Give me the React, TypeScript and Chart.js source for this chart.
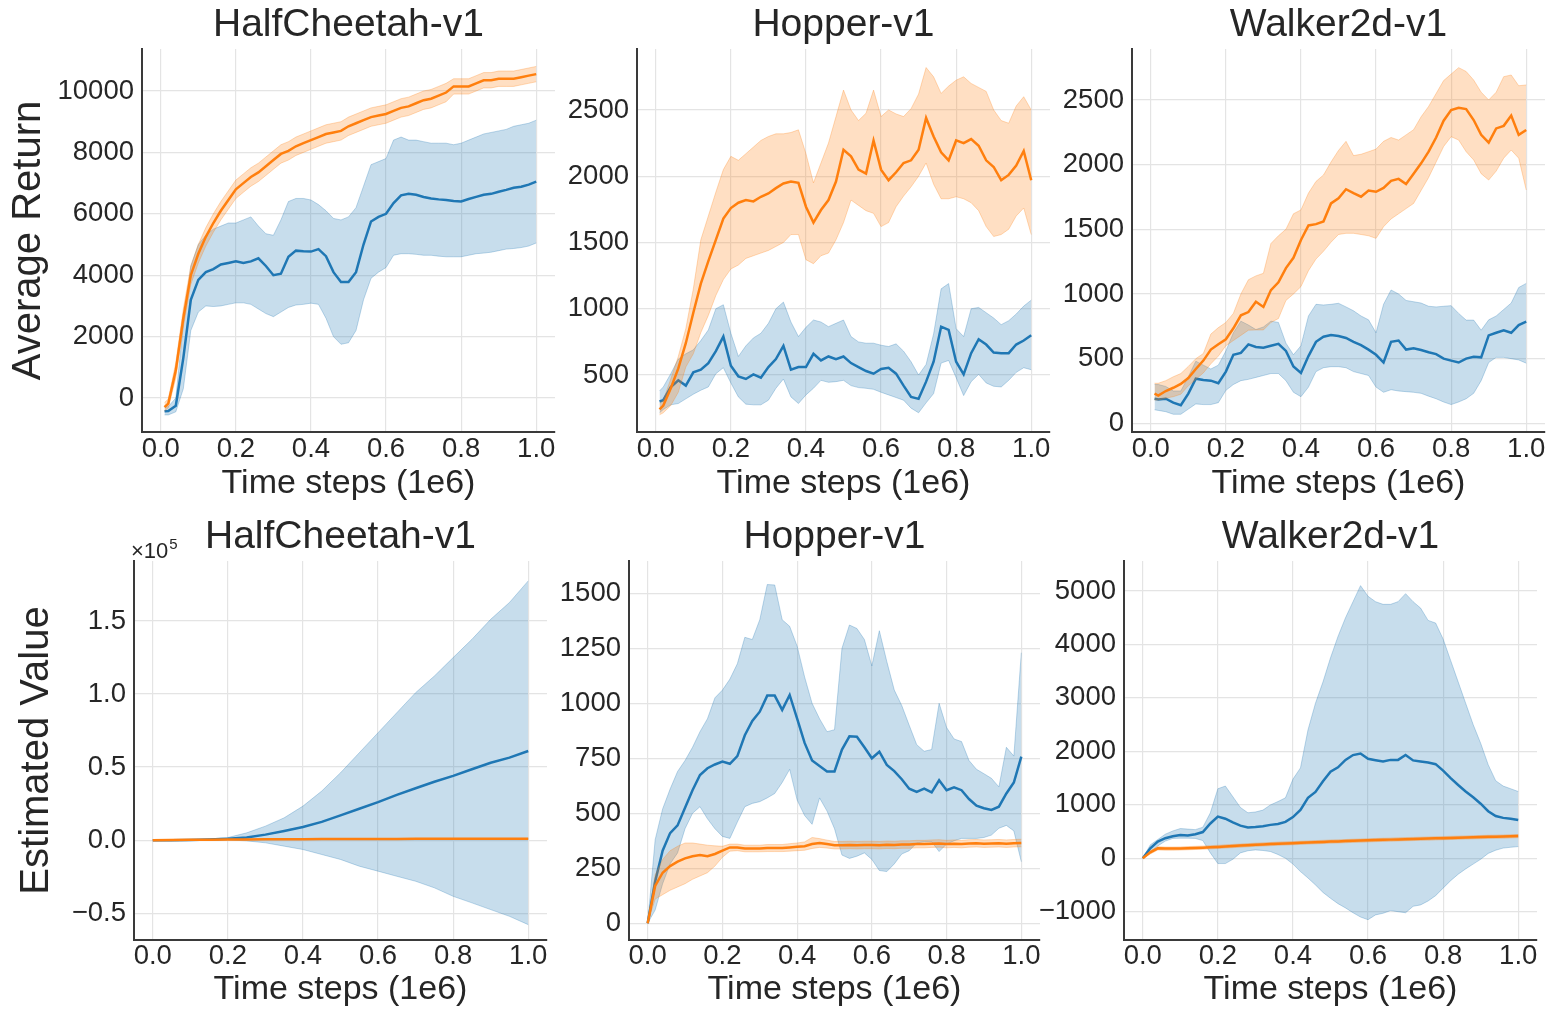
import React, { useEffect, useRef } from "react";
import { Chart, registerables } from "chart.js";

Chart.register(...registerables);

// ---------------- data ----------------
const X_TOP = [0.01, 0.02, 0.04, 0.06, 0.08, 0.1, 0.12, 0.14, 0.16, 0.18, 0.2, 0.22, 0.24, 0.26, 0.28, 0.3, 0.32, 0.34, 0.36, 0.38, 0.4, 0.42, 0.44, 0.46, 0.48, 0.5, 0.52, 0.54, 0.56, 0.58, 0.6, 0.62, 0.64, 0.66, 0.68, 0.7, 0.72, 0.74, 0.76, 0.78, 0.8, 0.82, 0.84, 0.86, 0.88, 0.9, 0.92, 0.94, 0.96, 0.98, 1.0];
const X_BOT = [0, 0.02, 0.04, 0.06, 0.08, 0.1, 0.12, 0.14, 0.16, 0.18, 0.2, 0.22, 0.24, 0.26, 0.28, 0.3, 0.32, 0.34, 0.36, 0.38, 0.4, 0.42, 0.44, 0.46, 0.48, 0.5, 0.52, 0.54, 0.56, 0.58, 0.6, 0.62, 0.64, 0.66, 0.68, 0.7, 0.72, 0.74, 0.76, 0.78, 0.8, 0.82, 0.84, 0.86, 0.88, 0.9, 0.92, 0.94, 0.96, 0.98, 1.0];
const X_HC_VAL = [0, 0.05, 0.1, 0.15, 0.2, 0.25, 0.3, 0.35, 0.4, 0.45, 0.5, 0.55, 0.6, 0.65, 0.7, 0.75, 0.8, 0.85, 0.9, 0.95, 1.0];

const TITLES = ["HalfCheetah-v1", "Hopper-v1", "Walker2d-v1"];
const X_LABEL = "Time steps (1e6)";
const Y_LABEL_TOP = "Average Return";
const Y_LABEL_BOT = "Estimated Value";

const TICKS_X = [0, 0.2, 0.4, 0.6, 0.8, 1.0];
const TICKS_HC_RET = [0, 2000, 4000, 6000, 8000, 10000];
const TICKS_HOP_RET = [500, 1000, 1500, 2000, 2500];
const TICKS_WAL_RET = [0, 500, 1000, 1500, 2000, 2500];
const TICKS_HC_VAL = [-50000, 0, 50000, 100000, 150000];
const TICKS_HOP_VAL = [0, 250, 500, 750, 1000, 1250, 1500];
const TICKS_WAL_VAL = [-1000, 0, 1000, 2000, 3000, 4000, 5000];

// HalfCheetah - Average Return
const HC_RET_BLUE_MEAN = [-430, -420, -250, 1300, 3200, 3850, 4100, 4200, 4350, 4400, 4450, 4400, 4450, 4550, 4300, 4000, 4050, 4600, 4800, 4780, 4770, 4850, 4620, 4100, 3780, 3780, 4100, 5000, 5750, 5900, 6000, 6350, 6600, 6650, 6620, 6550, 6500, 6470, 6450, 6420, 6400, 6480, 6550, 6620, 6650, 6720, 6780, 6850, 6880, 6950, 7050];
const HC_RET_BLUE_HI = [-300, -280, 0, 2400, 4300, 5000, 5300, 5500, 5600, 5700, 5700, 5800, 5900, 5600, 5350, 5300, 5800, 6400, 6500, 6500, 6450, 6300, 6100, 5850, 5800, 5900, 6200, 6900, 7600, 7700, 7800, 8400, 8500, 8400, 8400, 8350, 8300, 8300, 8300, 8250, 8300, 8400, 8500, 8600, 8650, 8700, 8750, 8850, 8900, 8950, 9050];
const HC_RET_BLUE_LO = [-550, -550, -450, 300, 2200, 2800, 3000, 2980, 3000, 3050, 3100, 3100, 3050, 2900, 2750, 2650, 2800, 2950, 3030, 3050, 3090, 3050, 2600, 2000, 1750, 1800, 2200, 3200, 3900, 4100, 4250, 4650, 4700, 4700, 4680, 4650, 4650, 4620, 4600, 4600, 4600, 4650, 4700, 4720, 4750, 4800, 4850, 4870, 4900, 4950, 5050];
const HC_RET_ORANGE_MEAN = [-300, -180, 900, 2600, 4000, 4700, 5250, 5700, 6100, 6450, 6800, 7000, 7200, 7350, 7550, 7750, 7950, 8050, 8200, 8300, 8400, 8500, 8600, 8650, 8700, 8850, 8950, 9050, 9150, 9200, 9250, 9350, 9450, 9500, 9600, 9700, 9750, 9850, 9950, 10150, 10150, 10150, 10250, 10350, 10350, 10400, 10400, 10400, 10450, 10500, 10550];
const HC_RET_ORANGE_HI = [-150, -30, 1150, 2900, 4300, 5000, 5550, 6000, 6400, 6750, 7100, 7300, 7500, 7650, 7850, 8050, 8250, 8350, 8500, 8600, 8700, 8800, 8900, 8950, 9000, 9150, 9250, 9350, 9450, 9500, 9550, 9650, 9750, 9800, 9900, 10000, 10050, 10150, 10250, 10400, 10400, 10400, 10500, 10600, 10600, 10650, 10650, 10650, 10700, 10750, 10800];
const HC_RET_ORANGE_LO = [-420, -320, 650, 2300, 3700, 4400, 4950, 5400, 5800, 6150, 6500, 6700, 6900, 7050, 7250, 7450, 7650, 7750, 7900, 8000, 8100, 8200, 8300, 8350, 8400, 8550, 8650, 8750, 8850, 8900, 8950, 9050, 9150, 9200, 9300, 9400, 9450, 9550, 9650, 9900, 9900, 9900, 10000, 10100, 10100, 10150, 10150, 10150, 10200, 10250, 10300];

// Hopper - Average Return
const HOP_RET_BLUE_MEAN = [300, 310, 410, 460, 420, 520, 540, 590, 680, 790, 570, 490, 470, 505, 480, 560, 620, 720, 540, 560, 560, 660, 610, 640, 620, 640, 590, 560, 530, 510, 545, 555, 510, 420, 335, 320, 450, 600, 865, 840, 600, 505, 665, 770, 730, 670, 665, 665, 730, 760, 800];
const HOP_RET_BLUE_HI = [380, 410, 510, 620, 660, 690, 760, 840, 1000, 1030, 815, 640, 720, 780, 815, 890, 1000, 1050, 900, 790, 860, 915, 900, 865, 890, 915, 790, 750, 740, 740, 725, 715, 735, 680, 600, 500, 580, 810, 1150, 1190, 850, 790, 1000, 1010, 970, 930, 880, 910, 960, 1020, 1065];
const HOP_RET_BLUE_LO = [215, 240, 275, 285, 320, 355, 385, 410, 510, 555, 440, 335, 280, 275, 275, 310, 400, 470, 335, 285, 350, 400, 460, 445, 450, 460, 420, 405, 400, 392, 370, 350, 330, 310, 250, 215, 290, 360, 590, 610, 480, 345, 450, 505, 440, 415, 410, 460, 520, 555, 540];
const HOP_RET_ORANGE_MEAN = [240, 270, 400, 550, 740, 970, 1190, 1360, 1520, 1680, 1760, 1800, 1820, 1810, 1845, 1870, 1910, 1945, 1960, 1950, 1770, 1650, 1745, 1820, 1960, 2200, 2150, 2050, 2020, 2270, 2050, 1970, 2030, 2100, 2120, 2200, 2440, 2300, 2180, 2120, 2270, 2250, 2280, 2230, 2120, 2070, 1970, 2010, 2080, 2190, 1970];
const HOP_RET_ORANGE_HI = [280, 310, 470, 640, 850, 1150, 1520, 1700, 1880, 2050, 2150, 2120, 2170, 2220, 2270, 2300, 2320, 2320, 2330, 2350, 2170, 1950, 2100, 2250, 2450, 2650, 2500, 2420, 2475, 2650, 2450, 2500, 2470, 2450, 2510, 2620, 2820, 2750, 2625, 2680, 2725, 2750, 2700, 2670, 2640, 2500, 2420, 2400, 2530, 2600, 2500];
const HOP_RET_ORANGE_LO = [200, 215, 270, 370, 560, 660, 820, 950, 1100, 1220, 1300, 1330, 1380, 1400, 1420, 1440, 1470, 1500, 1560, 1560, 1370, 1340, 1400, 1420, 1520, 1650, 1820, 1780, 1740, 1720, 1620, 1650, 1770, 1850, 1920, 2000, 2100, 1940, 1830, 1830, 1845, 1830, 1800, 1740, 1620, 1545, 1560, 1600, 1700, 1760, 1560];

// Walker2d - Average Return
const WAL_RET_BLUE_MEAN = [190, 185, 190, 160, 140, 230, 345, 335, 330, 310, 400, 530, 545, 610, 590, 585, 600, 615, 560, 440, 390, 520, 630, 670, 683, 675, 660, 630, 605, 570, 530, 470, 630, 640, 570, 580, 567, 550, 535, 500, 485, 470, 500, 515, 510, 680, 700, 720, 700, 760, 786];
const WAL_RET_BLUE_HI = [300, 300, 285, 250, 250, 360, 480, 450, 420, 450, 560, 700, 790, 760, 725, 745, 790, 780, 620, 530, 600, 830, 920, 915, 920, 928, 900, 870, 830, 800, 700, 920, 1031, 1000, 950, 940, 930, 905, 900, 905, 910, 850, 798, 798, 720, 800, 830, 880, 930, 1050, 1082];
const WAL_RET_BLUE_LO = [105, 100, 90, 70, 70, 110, 150, 145, 145, 160, 255, 300, 330, 340, 355, 370, 385, 385, 330, 240, 206, 280, 400, 430, 438, 438, 430, 400, 385, 370, 280, 240, 260, 250, 245, 240, 232, 210, 190, 165, 145, 165, 190, 232, 330, 470, 510, 510, 500, 490, 465];
const WAL_RET_ORANGE_MEAN = [230, 215, 250, 275, 305, 350, 420, 485, 570, 612, 650, 735, 835, 860, 940, 900, 1030, 1090, 1200, 1280, 1417, 1530, 1540, 1560, 1700, 1740, 1810, 1780, 1752, 1800, 1790, 1820, 1875, 1890, 1850, 1930, 2010, 2100, 2210, 2340, 2422, 2440, 2430, 2345, 2230, 2170, 2280, 2300, 2380, 2230, 2268];
const WAL_RET_ORANGE_HI = [310, 310, 330, 360, 385, 440, 500, 540, 690, 740, 780, 850, 1000, 1110, 1140, 1160, 1390, 1450, 1500, 1620, 1650, 1780, 1870, 1920, 2020, 2110, 2180, 2070, 2080, 2100, 2120, 2180, 2210, 2190, 2230, 2270, 2370, 2450, 2550, 2650, 2700, 2750, 2720, 2654, 2560, 2500, 2560, 2680, 2693, 2610, 2616];
const WAL_RET_ORANGE_LO = [180, 180, 195, 206, 225, 290, 340, 390, 460, 520, 600, 640, 680, 720, 722, 722, 780, 810, 950, 1000, 1057, 1180, 1270, 1330, 1400, 1460, 1469, 1469, 1460, 1450, 1430, 1520, 1580, 1620, 1660, 1700, 1800, 1900, 2020, 2140, 2216, 2190, 2100, 2036, 1930, 1881, 1950, 2050, 2113, 2050, 1804];

// HalfCheetah - Estimated Value
const HC_VAL_BLUE_MEAN = [0, 0, 200, 500, 1000, 1800, 3800, 6300, 9000, 12500, 17000, 21500, 26000, 31000, 35500, 40000, 44000, 48500, 53000, 56500, 61000];
const HC_VAL_BLUE_HI = [0, 100, 300, 800, 1800, 5000, 9600, 15300, 23300, 33600, 46100, 59800, 73500, 87200, 100900, 112300, 124900, 137400, 151100, 162600, 177400];
const HC_VAL_BLUE_LO = [0, -100, 0, 200, 200, -500, -1800, -4100, -6400, -9800, -13200, -17800, -21200, -24700, -28100, -32600, -38400, -42900, -47500, -52100, -57800];
const HC_VAL_ORANGE_MEAN = [0, 100, 250, 350, 450, 500, 600, 650, 700, 750, 800, 820, 850, 880, 900, 920, 950, 970, 990, 1000, 1020];
const HC_VAL_ORANGE_HI = [0, 250, 400, 500, 600, 650, 750, 800, 850, 900, 950, 970, 1000, 1030, 1050, 1070, 1100, 1120, 1140, 1150, 1170];
const HC_VAL_ORANGE_LO = [0, -50, 100, 200, 300, 350, 450, 500, 550, 600, 650, 670, 700, 730, 750, 770, 800, 820, 840, 850, 870];

// Hopper - Estimated Value
const HOP_VAL_BLUE_MEAN = [0, 190, 330, 410, 445, 525, 605, 674, 705, 722, 735, 725, 760, 855, 920, 962, 1035, 1035, 970, 1038, 930, 820, 740, 715, 690, 690, 790, 850, 848, 800, 750, 780, 720, 692, 655, 612, 597, 612, 595, 650, 605, 618, 605, 565, 535, 523, 515, 530, 590, 640, 758];
const HOP_VAL_BLUE_HI = [0, 380, 520, 610, 690, 740, 800, 871, 930, 1025, 1060, 1110, 1180, 1300, 1290, 1380, 1540, 1538, 1380, 1350, 1260, 1120, 1000, 930, 871, 880, 1250, 1356, 1340, 1290, 1170, 1330, 1190, 1060, 990, 900, 812, 782, 790, 1000, 890, 838, 826, 740, 700, 680, 659, 620, 800, 760, 1230];
const HOP_VAL_BLUE_LO = [0, 60, 180, 270, 320, 430, 500, 530, 475, 430, 395, 386, 460, 530, 545, 553, 570, 590, 640, 700, 560, 490, 450, 570, 510, 430, 310, 295, 305, 320, 290, 240, 235, 270, 315, 330, 365, 371, 371, 326, 360, 375, 386, 386, 386, 390, 401, 432, 445, 420, 280];
const HOP_VAL_ORANGE_MEAN = [0, 170, 230, 260, 280, 295, 305, 310, 305, 315, 330, 345, 345, 340, 340, 340, 342, 342, 342, 345, 348, 350, 360, 365, 360, 355, 355, 356, 355, 356, 356, 355, 357, 356, 358, 358, 360, 360, 362, 363, 360, 362, 360, 363, 364, 362, 363, 364, 362, 364, 365];
const HOP_VAL_ORANGE_HI = [0, 220, 290, 330, 350, 365, 365, 360, 355, 352, 350, 360, 360, 355, 355, 355, 358, 358, 358, 362, 365, 370, 390, 385, 378, 372, 372, 373, 372, 373, 373, 372, 374, 373, 375, 375, 377, 377, 379, 380, 377, 379, 377, 380, 381, 379, 380, 381, 379, 381, 382];
const HOP_VAL_ORANGE_LO = [0, 110, 130, 150, 165, 180, 200, 215, 230, 260, 300, 328, 330, 325, 325, 325, 326, 326, 326, 328, 330, 332, 340, 345, 342, 338, 338, 339, 338, 339, 339, 338, 340, 339, 341, 341, 343, 343, 345, 346, 343, 345, 343, 346, 347, 345, 346, 347, 345, 347, 348];

// Walker2d - Estimated Value
const WAL_VAL_BLUE_MEAN = [0, 187, 312, 375, 410, 435, 425, 450, 490, 650, 780, 740, 670, 610, 575, 585, 600, 624, 640, 680, 770, 905, 1130, 1240, 1440, 1620, 1700, 1840, 1930, 1960, 1860, 1835, 1810, 1840, 1840, 1930, 1830, 1809, 1790, 1760, 1640, 1500, 1370, 1250, 1140, 1020, 880, 790, 755, 740, 717];
const WAL_VAL_BLUE_HI = [0, 250, 350, 450, 510, 555, 545, 535, 580, 850, 1300, 1350, 1150, 950, 850, 865, 900, 998, 1060, 1130, 1480, 1690, 2400, 2900, 3300, 3750, 4150, 4500, 4800, 5100, 4900, 4800, 4750, 4750, 4800, 4950, 4800, 4680, 4450, 4400, 4100, 3700, 3300, 2900, 2500, 2150, 1750, 1450, 1350, 1300, 1248];
const WAL_VAL_BLUE_LO = [0, 110, 230, 320, 370, 375, 375, 370, 330, 100, -100, -100, -20, 100, 140, 156, 145, 125, 70, 0, -110, -250, -370, -500, -640, -750, -850, -930, -1020, -1100, -1150, -1060, -1030, -980, -1000, -1020, -900, -873, -800, -700, -560, -420, -300, -200, -110, -20, 90, 150, 190, 205, 218];
const WAL_VAL_ORANGE_MEAN = [0, 110, 185, 180, 180, 182, 188, 193, 198, 205, 212, 220, 228, 236, 244, 252, 258, 264, 272, 276, 282, 288, 294, 300, 305, 312, 315, 320, 326, 330, 335, 340, 344, 348, 352, 357, 360, 364, 368, 372, 376, 380, 384, 388, 392, 396, 400, 403, 406, 410, 414];
const WAL_VAL_ORANGE_HI = [0, 140, 215, 210, 210, 212, 218, 223, 228, 235, 242, 250, 258, 266, 274, 282, 288, 294, 302, 306, 312, 318, 324, 330, 335, 342, 345, 350, 356, 360, 365, 370, 374, 378, 382, 387, 390, 394, 398, 402, 406, 410, 414, 418, 422, 426, 430, 433, 436, 440, 444];
const WAL_VAL_ORANGE_LO = [0, 80, 155, 150, 150, 152, 158, 163, 168, 175, 182, 190, 198, 206, 214, 222, 228, 234, 242, 246, 252, 258, 264, 270, 275, 282, 285, 290, 296, 300, 305, 310, 314, 318, 322, 327, 330, 334, 338, 342, 346, 350, 354, 358, 362, 366, 370, 373, 376, 380, 384];

// ---------------- styles ----------------
const FONT = "'Liberation Sans', Arial, sans-serif";
const TEXT = "#262626";
const BLUE = "#1f77b4";
const ORANGE = "#ff7f0e";
const BLUE_FILL = "rgba(31,119,180,0.25)";
const BLUE_EDGE = "rgba(31,119,180,0.28)";
const ORANGE_FILL = "rgba(255,127,14,0.25)";
const ORANGE_EDGE = "rgba(255,127,14,0.28)";
const GRID = "#e4e4e4";
const SPINE = "#3a3a3a";
const TICK_SIZE = 27.5;
const XLABEL_SIZE = 34;
const TITLE_SIZE = 39;
const YLABEL_SIZE = 40;

Chart.defaults.font.family = FONT;

type Series = { mean: number[]; lo: number[]; hi: number[] };
type PanelSpec = {
  title: string;
  xs: number[];
  blue: Series;
  orange: Series;
  yMin: number;
  yMax: number;
  yTicks: number[];
  fmt: (v: number) => string;
  yTitle?: string;
  yTitlePad?: number;
  sci?: boolean;
  left: number;
  top: number;
  width: number;
  height: number;
  yW: number;
  xH: number;
  tPadTop: number;
  tPadBottom: number;
  tickPad: number;
};

const fmtInt = (v: number) => (v < 0 ? "\u2212" + Math.abs(v) : String(v));
const fmtSci5 = (v: number) => {
  const s = Math.abs(v / 1e5).toFixed(1);
  return v < 0 ? "\u2212" + s : s;
};

const TOP_ROW = { top: 0, height: 504, xH: 72, tPadTop: 2.2, tPadBottom: 0, tickPad: 0.5 };
const BOT_ROW = { top: 500, height: 510, xH: 70, tPadTop: 14.2, tPadBottom: 0, tickPad: 0 };

const PANELS: PanelSpec[] = [
  {
    title: TITLES[0], xs: X_TOP,
    blue: { mean: HC_RET_BLUE_MEAN, lo: HC_RET_BLUE_LO, hi: HC_RET_BLUE_HI },
    orange: { mean: HC_RET_ORANGE_MEAN, lo: HC_RET_ORANGE_LO, hi: HC_RET_ORANGE_HI },
    yMin: -1107, yMax: 11368, yTicks: TICKS_HC_RET, fmt: fmtInt,
    yTitle: Y_LABEL_TOP, yTitlePad: 5,
    left: 0, width: 559, yW: 142, ...TOP_ROW,
  },
  {
    title: TITLES[1], xs: X_TOP,
    blue: { mean: HOP_RET_BLUE_MEAN, lo: HOP_RET_BLUE_LO, hi: HOP_RET_BLUE_HI },
    orange: { mean: HOP_RET_ORANGE_MEAN, lo: HOP_RET_ORANGE_LO, hi: HOP_RET_ORANGE_HI },
    yMin: 70, yMax: 2960, yTicks: TICKS_HOP_RET, fmt: fmtInt,
    left: 537, width: 517, yW: 100, ...TOP_ROW,
  },
  {
    title: TITLES[2], xs: X_TOP,
    blue: { mean: WAL_RET_BLUE_MEAN, lo: WAL_RET_BLUE_LO, hi: WAL_RET_BLUE_HI },
    orange: { mean: WAL_RET_ORANGE_MEAN, lo: WAL_RET_ORANGE_LO, hi: WAL_RET_ORANGE_HI },
    yMin: -67, yMax: 2894, yTicks: TICKS_WAL_RET, fmt: fmtInt,
    left: 1032, width: 517, yW: 100, ...TOP_ROW,
  },
  {
    title: TITLES[0], xs: X_HC_VAL,
    blue: { mean: HC_VAL_BLUE_MEAN, lo: HC_VAL_BLUE_LO, hi: HC_VAL_BLUE_HI },
    orange: { mean: HC_VAL_ORANGE_MEAN, lo: HC_VAL_ORANGE_LO, hi: HC_VAL_ORANGE_HI },
    yMin: -68300, yMax: 191000, yTicks: TICKS_HC_VAL, fmt: fmtSci5,
    yTitle: Y_LABEL_BOT, yTitlePad: 13, sci: true,
    left: 0, width: 551, yW: 134, ...BOT_ROW,
  },
  {
    title: TITLES[1], xs: X_BOT,
    blue: { mean: HOP_VAL_BLUE_MEAN, lo: HOP_VAL_BLUE_LO, hi: HOP_VAL_BLUE_HI },
    orange: { mean: HOP_VAL_ORANGE_MEAN, lo: HOP_VAL_ORANGE_LO, hi: HOP_VAL_ORANGE_HI },
    yMin: -76, yMax: 1647, yTicks: TICKS_HOP_VAL, fmt: fmtInt,
    left: 529, width: 515, yW: 100, ...BOT_ROW,
  },
  {
    title: TITLES[2], xs: X_BOT,
    blue: { mean: WAL_VAL_BLUE_MEAN, lo: WAL_VAL_BLUE_LO, hi: WAL_VAL_BLUE_HI },
    orange: { mean: WAL_VAL_ORANGE_MEAN, lo: WAL_VAL_ORANGE_LO, hi: WAL_VAL_ORANGE_HI },
    yMin: -1530, yMax: 5561, yTicks: TICKS_WAL_VAL, fmt: fmtInt,
    left: 1024, width: 517, yW: 100, ...BOT_ROW,
  },
];

const sciPlugin = {
  id: "sciOffset",
  afterDraw(chart: any, _args: any, opts: any) {
    if (!opts || !opts.show) return;
    const { ctx, chartArea } = chart;
    ctx.save();
    ctx.fillStyle = TEXT;
    ctx.textAlign = "left";
    ctx.textBaseline = "alphabetic";
    const x0 = chartArea.left - 3;
    const y0 = chartArea.top - 3;
    ctx.font = `22px ${FONT}`;
    ctx.fillText("\u00d710", x0, y0);
    const w = ctx.measureText("\u00d710").width;
    ctx.font = `15px ${FONT}`;
    ctx.fillText("5", x0 + w + 1, y0 - 9);
    ctx.restore();
  },
};

function buildConfig(p: PanelSpec): any {
  const pts = (ys: number[]) => p.xs.map((x, i) => ({ x, y: ys[i] }));
  const base = { pointRadius: 0, pointHoverRadius: 0, tension: 0 };
  return {
    type: "line",
    data: {
      datasets: [
        { ...base, data: pts(p.blue.hi), borderColor: BLUE_EDGE, backgroundColor: BLUE_FILL, borderWidth: 1, fill: "+1", order: 5 },
        { ...base, data: pts(p.blue.lo), borderColor: BLUE_EDGE, borderWidth: 1, fill: false, order: 6 },
        { ...base, data: pts(p.blue.mean), borderColor: BLUE, borderWidth: 2.5, fill: false, order: 4 },
        { ...base, data: pts(p.orange.hi), borderColor: ORANGE_EDGE, backgroundColor: ORANGE_FILL, borderWidth: 1, fill: "+1", order: 2 },
        { ...base, data: pts(p.orange.lo), borderColor: ORANGE_EDGE, borderWidth: 1, fill: false, order: 3 },
        { ...base, data: pts(p.orange.mean), borderColor: ORANGE, borderWidth: 2.5, fill: false, order: 1 },
      ],
    },
    options: {
      responsive: false,
      animation: false,
      devicePixelRatio: 1,
      events: [],
      layout: { padding: { left: 0, right: 4, top: 0, bottom: 0 } },
      plugins: {
        legend: { display: false },
        tooltip: { enabled: false },
        title: {
          display: true,
          text: p.title,
          fullSize: false,
          color: TEXT,
          font: { family: FONT, size: TITLE_SIZE, weight: "normal" },
          padding: { top: p.tPadTop, bottom: p.tPadBottom },
        },
        sciOffset: { show: !!p.sci },
      },
      scales: {
        x: {
          type: "linear",
          min: -0.05,
          max: 1.05,
          afterBuildTicks: (s: any) => {
            s.ticks = TICKS_X.map((v) => ({ value: v }));
          },
          afterFit: (s: any) => {
            s.height = p.xH;
          },
          ticks: {
            callback: (v: any) => Number(v).toFixed(1),
            font: { family: FONT, size: TICK_SIZE },
            color: TEXT,
            padding: p.tickPad,
            maxRotation: 0,
            autoSkip: false,
          },
          grid: { color: GRID, lineWidth: 1.2, drawTicks: false },
          border: { display: true, color: SPINE, width: 2 },
          title: {
            display: true,
            text: X_LABEL,
            color: TEXT,
            font: { family: FONT, size: XLABEL_SIZE },
            padding: { top: 0, bottom: 0 },
          },
        },
        y: {
          type: "linear",
          min: p.yMin,
          max: p.yMax,
          afterBuildTicks: (s: any) => {
            s.ticks = p.yTicks.map((v) => ({ value: v }));
          },
          afterFit: (s: any) => {
            s.width = p.yW;
          },
          ticks: {
            callback: (v: any) => p.fmt(Number(v)),
            font: { family: FONT, size: TICK_SIZE },
            color: TEXT,
            padding: 8,
            autoSkip: false,
          },
          grid: { color: GRID, lineWidth: 1.2, drawTicks: false },
          border: { display: true, color: SPINE, width: 2 },
          title: p.yTitle
            ? {
                display: true,
                text: p.yTitle,
                color: TEXT,
                font: { family: FONT, size: YLABEL_SIZE },
                padding: { top: p.yTitlePad ?? 0, bottom: 0 },
              }
            : { display: false },
        },
      },
    },
    plugins: [sciPlugin],
  };
}

function PanelChart({ spec }: { spec: PanelSpec }) {
  const ref = useRef<HTMLCanvasElement>(null);
  useEffect(() => {
    if (!ref.current) return;
    const chart = new Chart(ref.current, buildConfig(spec));
    return () => chart.destroy();
  }, [spec]);
  return (
    <canvas
      ref={ref}
      width={spec.width}
      height={spec.height}
      style={{ position: "absolute", left: spec.left, top: spec.top, width: spec.width, height: spec.height }}
    />
  );
}

export default function App() {
  return (
    <div
      style={{
        position: "absolute",
        left: 0,
        top: 0,
        width: 1553,
        height: 1013,
        background: "#ffffff",
        overflow: "hidden",
      }}
    >
      {PANELS.map((p, i) => (
        <PanelChart key={i} spec={p} />
      ))}
    </div>
  );
}
